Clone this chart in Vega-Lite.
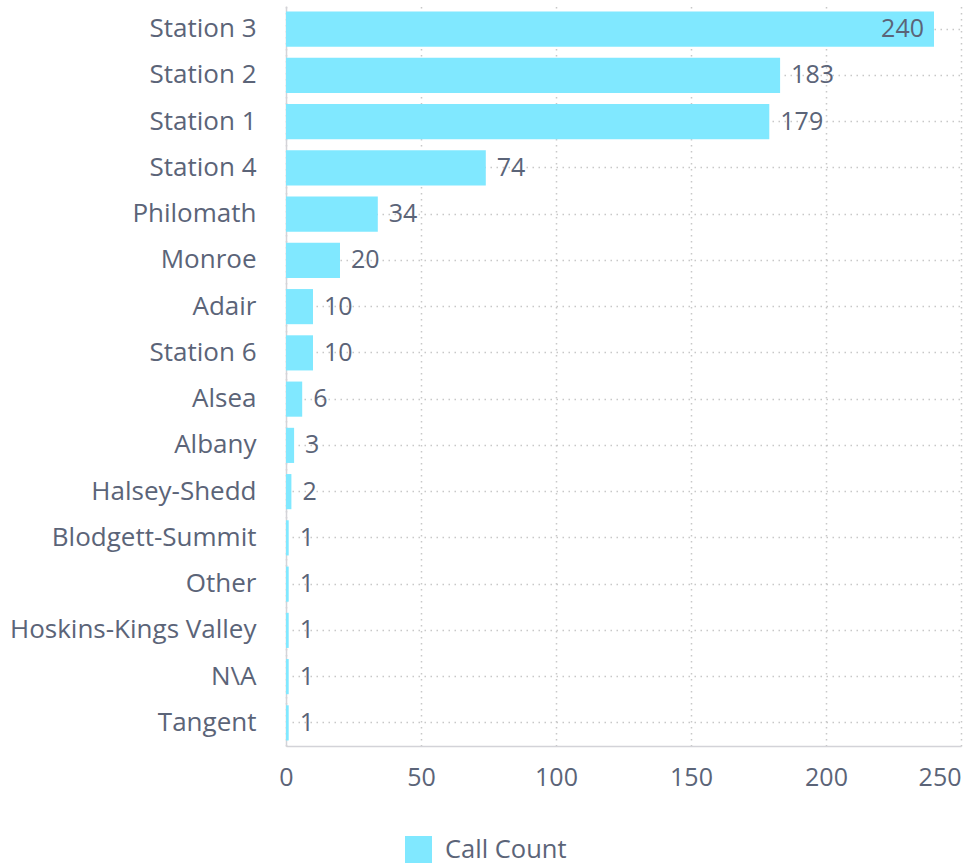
{
  "$schema": "https://vega.github.io/schema/vega-lite/v6.json",
  "autosize": "none",
  "width": 675,
  "height": 740,
  "padding": {"left": 286, "top": 6, "right": 5, "bottom": 120},
  "config": {
    "font": "Open Sans",
    "view": {"stroke": null},
    "axis": {
      "labelFont": "Open Sans",
      "labelColor": "#5b6478",
      "labelFontSize": 25,
      "labelLimit": 0,
      "domainColor": "#d3d3d8",
      "domainWidth": 1.5,
      "gridColor": "#c8c8c8",
      "gridDash": [1.5, 4.5],
      "gridWidth": 1.5,
      "ticks": false,
      "title": null
    }
  },
  "data": {
    "values": [
      {"station": "Station 3", "count": 240},
      {"station": "Station 2", "count": 183},
      {"station": "Station 1", "count": 179},
      {"station": "Station 4", "count": 74},
      {"station": "Philomath", "count": 34},
      {"station": "Monroe", "count": 20},
      {"station": "Adair", "count": 10},
      {"station": "Station 6", "count": 10},
      {"station": "Alsea", "count": 6},
      {"station": "Albany", "count": 3},
      {"station": "Halsey-Shedd", "count": 2},
      {"station": "Blodgett-Summit", "count": 1},
      {"station": "Other", "count": 1},
      {"station": "Hoskins-Kings Valley", "count": 1},
      {"station": "N\\A", "count": 1},
      {"station": "Tangent", "count": 1}
    ]
  },
  "encoding": {
    "y": {
      "field": "station",
      "type": "nominal",
      "sort": null,
      "scale": {"paddingInner": 0.24, "paddingOuter": 0.12},
      "axis": {"labelPadding": 30, "grid": true, "bandPosition": 0.5, "labelFontSize": 26}
    },
    "x": {
      "field": "count",
      "type": "quantitative",
      "scale": {"domain": [0, 250], "nice": false},
      "axis": {
        "values": [0, 50, 100, 150, 200, 250],
        "labelPadding": 19,
        "grid": true,
        "labelFlush": false,
        "labelAlign": {"condition": {"test": "datum.value == 250", "value": "right"}, "value": "center"}
      }
    }
  },
  "layer": [
    {
      "mark": {"type": "bar", "color": "#80e8ff"},
      "encoding": {
        "color": {
          "datum": "Call Count",
          "type": "nominal",
          "scale": {"range": ["#80e8ff"]},
          "legend": {
            "title": null,
            "orient": "none",
            "legendX": 119,
            "legendY": 830,
            "symbolType": "square",
            "symbolSize": 729,
            "symbolStrokeWidth": 0,
            "labelFontSize": 25.5,
            "labelColor": "#5b6478",
            "labelFont": "Open Sans",
            "labelOffset": 13,
            "labelLimit": 0
          }
        }
      }
    },
    {
      "transform": [{"filter": "datum.count < 220"}],
      "mark": {"type": "text", "align": "left", "baseline": "middle", "dx": 11, "fontSize": 25, "color": "#5b6478", "font": "Open Sans"},
      "encoding": {"text": {"field": "count", "type": "quantitative"}}
    },
    {
      "transform": [{"filter": "datum.count >= 220"}],
      "mark": {"type": "text", "align": "right", "baseline": "middle", "dx": -10, "fontSize": 25, "color": "#5b6478", "font": "Open Sans"},
      "encoding": {"text": {"field": "count", "type": "quantitative"}}
    }
  ]
}
